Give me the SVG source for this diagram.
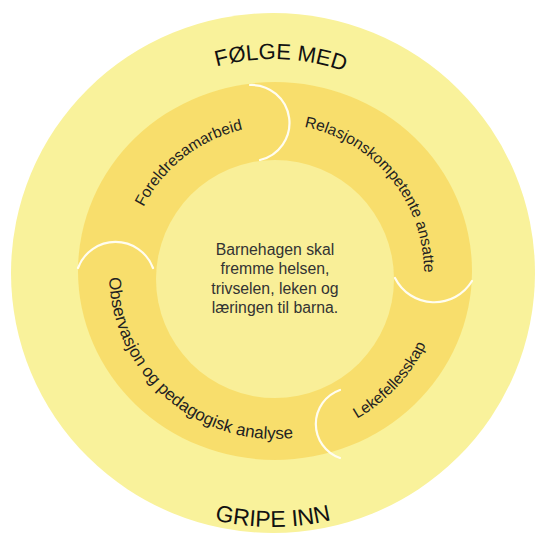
<svg xmlns="http://www.w3.org/2000/svg" width="538" height="541" viewBox="0 0 538 541">
<style>
.lbl{font-family:"Liberation Sans",Arial,sans-serif;font-size:15.5px;fill:#222}
.ttl{font-family:"Liberation Sans",Arial,sans-serif;fill:#111}
.cap{fill:none;stroke:#fffdf0;stroke-width:2.2;stroke-linecap:round}
.ctr{font-family:"Liberation Sans",Arial,sans-serif;font-size:15.8px;fill:#333;text-anchor:middle}
</style>
<defs>
<path id="pTop" d="M141.6,104.2 A214,214 0 0 1 416.4,114.2"/>
<path id="pBot" d="M165.7,503.2 A254,254 0 0 0 380.3,503.2"/>
<path id="pF" d="M135.2,318.4 A147,147 0 0 1 352.9,148.3"/>
<path id="pR" d="M225.5,132.4 A149,149 0 0 1 403.3,348.8"/>
<path id="pL" d="M209.7,426.8 A167,167 0 0 0 423.8,197.2"/>
<path id="pO" d="M125.8,200.2 A166,166 0 0 0 367.8,410.6"/>
</defs>
<rect width="538" height="541" fill="#ffffff"/>
<g id="outer">
<ellipse cx="273" cy="273" rx="262" ry="260" fill="#f9f29b"/>
<text class="ttl" font-size="22"><textPath href="#pTop" startOffset="50%" text-anchor="middle">FØLGE MED</textPath></text>
<text class="ttl" font-size="23"><textPath href="#pBot" startOffset="50%" text-anchor="middle">GRIPE INN</textPath></text>
</g>
<g id="ring">
<ellipse cx="275" cy="271" rx="197" ry="189" fill="#f8de6c"/>
</g>
<g id="center">
<circle cx="275" cy="279" r="119" fill="#f9ef98"/>
<text class="ctr" x="275" y="255">Barnehagen skal</text>
<text class="ctr" x="275" y="274">fremme helsen,</text>
<text class="ctr" x="275" y="293.5">trivselen, leken og</text>
<text class="ctr" x="275" y="313">læringen til barna.</text>
</g>
<g id="connectors">
<path class="cap" d="M250,85 A38,38 0 0 1 260,160"/>
<path class="cap" d="M395,278 A44,44 0 0 0 472,281"/>
<path class="cap" d="M340,390 A36,36 0 0 0 340,458"/>
<path class="cap" d="M78,268 A40,40 0 0 1 153,268"/>
</g>
<g id="foreldresamarbeid">
<text class="lbl"><textPath href="#pF" startOffset="50%" text-anchor="middle">Foreldresamarbeid</textPath></text>
</g>
<g id="relasjonskompetente">
<text class="lbl"><textPath href="#pR" startOffset="50%" text-anchor="middle">Relasjonskompetente ansatte</textPath></text>
</g>
<g id="lekefellesskap">
<text class="lbl" font-size="16"><textPath href="#pL" startOffset="50%" text-anchor="middle">Lekefellesskap</textPath></text>
</g>
<g id="observasjon">
<text class="lbl" style="font-size:17px"><textPath href="#pO" startOffset="50%" text-anchor="middle">Observasjon og pedagogisk analyse</textPath></text>
</g>
</svg>
